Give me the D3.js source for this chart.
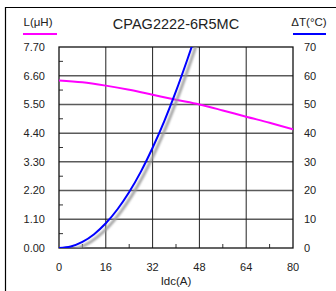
<!DOCTYPE html>
<html>
<head>
<meta charset="utf-8">
<script src="https://cdn.jsdelivr.net/npm/d3@7"></script>
<style>
  body { margin: 0; background: #fff; }
  svg { display: block; font-family: "Liberation Sans", Arial, sans-serif; }
</style>
</head>
<body>
<div id="chart"></div>
<script>
// data
const current = [0, 4, 8, 12, 16, 20, 24, 28, 32, 36, 40, 44, 46];
const deltaT = [0, 0.5, 2.1, 4.8, 8.6, 13.5, 19.5, 26.6, 34.9, 44.2, 54.6, 66, 72];
const currentL = [0, 8, 16, 24, 32, 40, 48, 56, 64, 72, 80];
const inductance = [6.42, 6.35, 6.22, 6.06, 5.87, 5.68, 5.5, 5.27, 5.03, 4.8, 4.55];
const xTicks = [0, 16, 32, 48, 64, 80];
const yLeftTicks = [0, 1.1, 2.2, 3.3, 4.4, 5.5, 6.6, 7.7];
const yRightTicks = [0, 10, 20, 30, 40, 50, 60, 70];

const width = 336, height = 291;
const margins = {top: 47, right: 43, bottom: 43, left: 59};

const svg = d3.select("#chart")
  .append("svg")
  .attr("width", width)
  .attr("height", height);

// frame (top and left edges only)
svg.append("path")
  .attr("d", `M5.5,${height} V7.5 H${width}`)
  .attr("fill", "none")
  .attr("stroke", "#000")
  .attr("stroke-width", 1.2);

const xScale = d3.scaleLinear().domain([0, 80]).range([margins.left, width - margins.right]);
const yLeft = d3.scaleLinear().domain([0, 7.7]).range([height - margins.bottom, margins.top]);
const yRight = d3.scaleLinear().domain([0, 70]).range([height - margins.bottom, margins.top]);

const defs = svg.append("defs");
defs.append("clipPath").attr("id", "plot")
  .append("rect")
  .attr("x", margins.left).attr("y", margins.top)
  .attr("width", width - margins.left - margins.right)
  .attr("height", height - margins.top - margins.bottom);
defs.append("filter").attr("id", "blur")
  .attr("x", "-20%").attr("y", "-20%").attr("width", "140%").attr("height", "140%")
  .append("feGaussianBlur").attr("stdDeviation", 1.3);

// horizontal grid
svg.append("g")
  .selectAll("line")
  .data(yLeftTicks.slice(1, -1))
  .join("line")
    .attr("x1", margins.left).attr("x2", width - margins.right)
    .attr("y1", d => yLeft(d)).attr("y2", d => yLeft(d))
    .attr("stroke", "#5a5a5a")
    .attr("stroke-width", 1.5);

// vertical grid
svg.append("g")
  .selectAll("line")
  .data(xTicks.slice(1, -1))
  .join("line")
    .attr("x1", d => xScale(d)).attr("x2", d => xScale(d))
    .attr("y1", margins.top).attr("y2", height - margins.bottom)
    .attr("stroke", "#222")
    .attr("stroke-width", 1);

// minor ticks
const minorX = d3.range(8, 80, 16);
svg.append("g")
  .selectAll("line")
  .data(minorX)
  .join("line")
    .attr("x1", d => xScale(d)).attr("x2", d => xScale(d))
    .attr("y1", height - margins.bottom).attr("y2", height - margins.bottom - 4)
    .attr("stroke", "#333");
const minorY = yLeftTicks.slice(0, -1).map(d => d + 0.55);
svg.append("g")
  .selectAll("line")
  .data(minorY)
  .join("line")
    .attr("x1", margins.left).attr("x2", margins.left + 4)
    .attr("y1", d => yLeft(d)).attr("y2", d => yLeft(d))
    .attr("stroke", "#333");

// plot border
svg.append("rect")
  .attr("x", margins.left).attr("y", margins.top)
  .attr("width", width - margins.left - margins.right)
  .attr("height", height - margins.top - margins.bottom)
  .attr("fill", "none")
  .attr("stroke", "#111")
  .attr("stroke-width", 1.3);

const plot = svg.append("g").attr("clip-path", "url(#plot)");

// inductance line
const lineL = d3.line()
  .curve(d3.curveCatmullRom)
  .x((d, i) => xScale(currentL[i]))
  .y(d => yLeft(d));
plot.append("path")
  .attr("d", lineL(inductance))
  .attr("fill", "none")
  .attr("stroke", "#ff00ff")
  .attr("stroke-width", 2);

// temperature rise curve with drop shadow
const lineT = d3.line()
  .curve(d3.curveCatmullRom)
  .x((d, i) => xScale(current[i]))
  .y(d => yRight(d));
plot.append("path")
  .attr("d", lineT(deltaT))
  .attr("transform", "translate(3,3)")
  .attr("fill", "none")
  .attr("stroke", "#999")
  .attr("stroke-width", 2.5)
  .attr("filter", "url(#blur)");
plot.append("path")
  .attr("d", lineT(deltaT))
  .attr("fill", "none")
  .attr("stroke", "#0000ff")
  .attr("stroke-width", 2);

// tick labels
svg.append("g")
  .selectAll("text")
  .data(yLeftTicks)
  .join("text")
    .attr("x", 45).attr("y", d => yLeft(d))
    .attr("dy", "0.35em")
    .attr("text-anchor", "end")
    .style("font-size", "11px")
    .style("fill", "#222")
    .text(d => d.toFixed(2));
svg.append("g")
  .selectAll("text")
  .data(yRightTicks)
  .join("text")
    .attr("x", 304).attr("y", d => yRight(d))
    .attr("dy", "0.35em")
    .style("font-size", "11px")
    .style("fill", "#222")
    .text(d => d);
svg.append("g")
  .selectAll("text")
  .data(xTicks)
  .join("text")
    .attr("x", d => xScale(d)).attr("y", 271)
    .attr("text-anchor", "middle")
    .style("font-size", "11px")
    .style("fill", "#222")
    .text(d => d);

// axis titles
svg.append("text")
  .attr("x", xScale(40)).attr("y", 285)
  .attr("text-anchor", "middle")
  .style("font-size", "11.5px")
  .style("fill", "#222")
  .text("Idc(A)");
svg.append("text")
  .attr("x", 176).attr("y", 29)
  .attr("text-anchor", "middle")
  .style("font-size", "14.5px")
  .style("fill", "#222")
  .text("CPAG2222-6R5MC");
svg.append("text")
  .attr("x", 38).attr("y", 26)
  .attr("text-anchor", "middle")
  .style("font-size", "11.5px")
  .style("fill", "#222")
  .text("L(μH)");
svg.append("line")
  .attr("x1", 23).attr("x2", 57).attr("y1", 34).attr("y2", 34)
  .attr("stroke", "#ff00ff").attr("stroke-width", 2);
svg.append("text")
  .attr("x", 309).attr("y", 26)
  .attr("text-anchor", "middle")
  .style("font-size", "11.5px")
  .style("fill", "#222")
  .text("ΔT(°C)");
svg.append("line")
  .attr("x1", 293).attr("x2", 326).attr("y1", 34).attr("y2", 34)
  .attr("stroke", "#0000ff").attr("stroke-width", 2);
</script>
</body>
</html>
